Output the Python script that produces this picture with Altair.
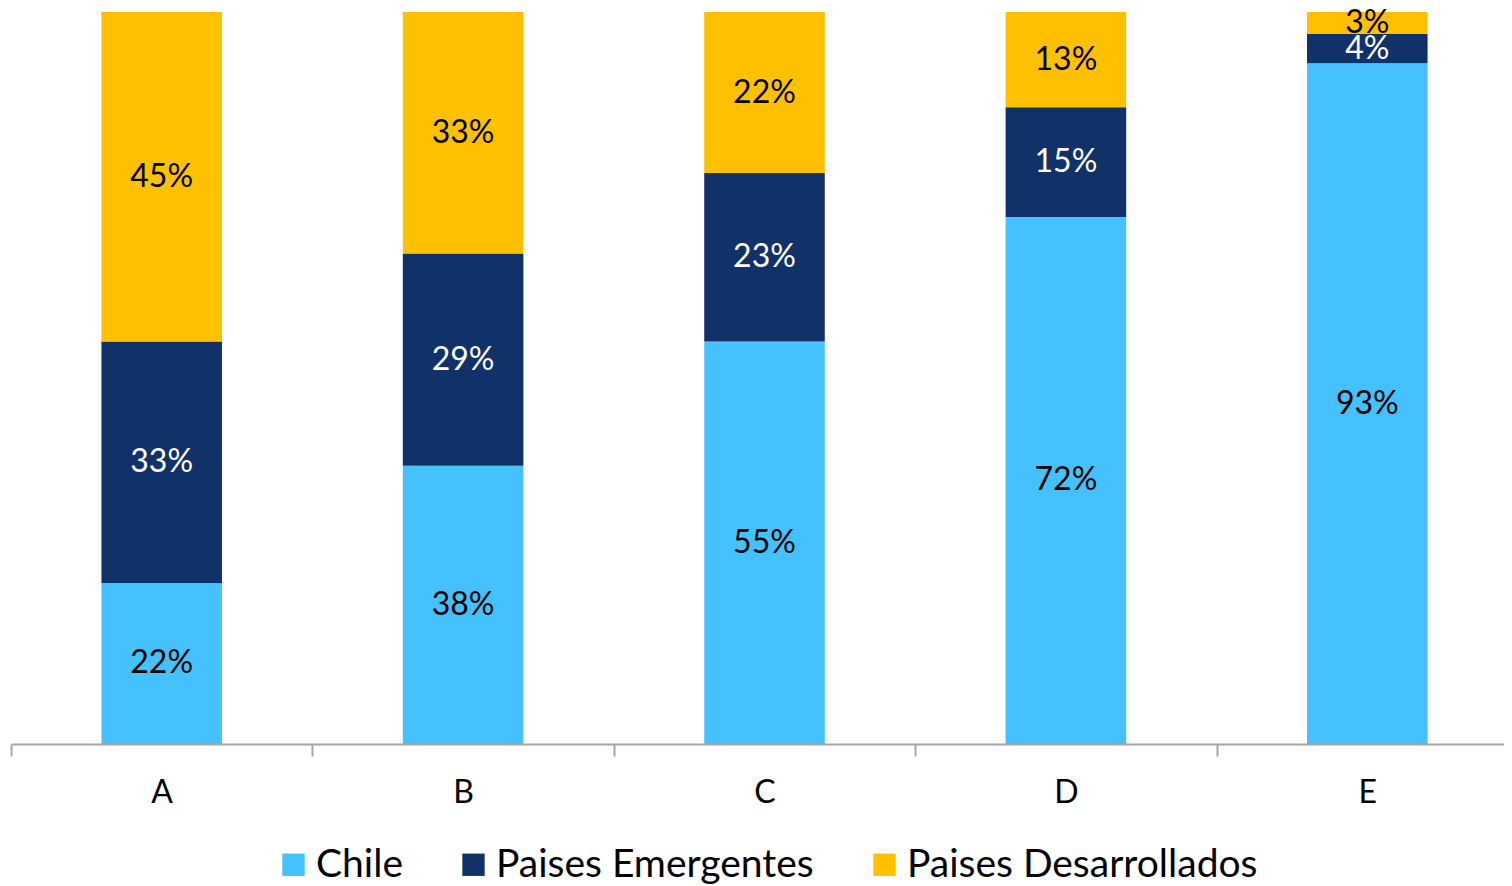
import altair as alt
import pandas as pd

cats = ["A", "B", "C", "D", "E"]
series = ["Chile", "Paises Emergentes", "Paises Desarrollados"]
chile = [22, 38, 55, 72, 93]
emergentes = [33, 29, 23, 15, 4]
desarrollados = [45, 33, 22, 13, 3]
colors = ["#45C1FF", "#113169", "#FFC000"]

rows = []
for i, c in enumerate(cats):
    for k, (s, vals) in enumerate(zip(series, [chile, emergentes, desarrollados])):
        rows.append({"cat": c, "series": s, "value": vals[i], "ord": k})
df = pd.DataFrame(rows)

FONT = "Lato"

base = alt.Chart(df).transform_stack(
    stack="value", groupby=["cat"], as_=["v0", "v1"],
    sort=[alt.SortField("ord", order="ascending")]
).transform_calculate(mid="(datum.v0 + datum.v1) / 2")

x = alt.X("cat:N", sort=cats, title=None,
          scale=alt.Scale(paddingInner=0, paddingOuter=0),
          axis=alt.Axis(labelAngle=0, labelFont=FONT, labelFontSize=32, labelColor="#000000",
                        domainColor="#A6A6A6", domainWidth=2, tickColor="#A6A6A6", tickWidth=2,
                        tickSize=12, tickBand="extent", labelPadding=21, grid=False))

bars = base.mark_bar(width=alt.RelativeBandSize(0.4)).encode(
    x=x,
    y=alt.Y("v0:Q", scale=alt.Scale(domain=[0, 100]), axis=None),
    y2="v1:Q",
    color=alt.Color("series:N", sort=series,
                    scale=alt.Scale(domain=series, range=colors),
                    legend=alt.Legend(orient="none", legendX=263, legendY=833,
                                      direction="horizontal", title=None,
                                      symbolType="square", symbolSize=500, symbolStrokeWidth=0,
                                      labelFont=FONT, labelFontSize=39, labelColor="#000000",
                                      labelLimit=0, columnPadding=51, labelOffset=3)),
)

labels = base.mark_text(font=FONT, fontSize=32, baseline="middle", align="center").encode(
    x=alt.X("cat:N", sort=cats),
    y=alt.Y("mid:Q"),
    text=alt.Text("label:N"),
    color=alt.condition(alt.datum.series == "Paises Emergentes", alt.value("#FFFFFF"), alt.value("#000000")),
).transform_calculate(label="datum.value + '%'")

chart = alt.layer(bars, labels).properties(
    width=1507, height=732,
    autosize=alt.AutoSizeParams(type="none"),
    padding={"left": 3, "top": 4, "right": -14, "bottom": 140},
).configure_view(stroke=None)

chart.save("out.html", embed_options={"renderer": "svg", "actions": False})
